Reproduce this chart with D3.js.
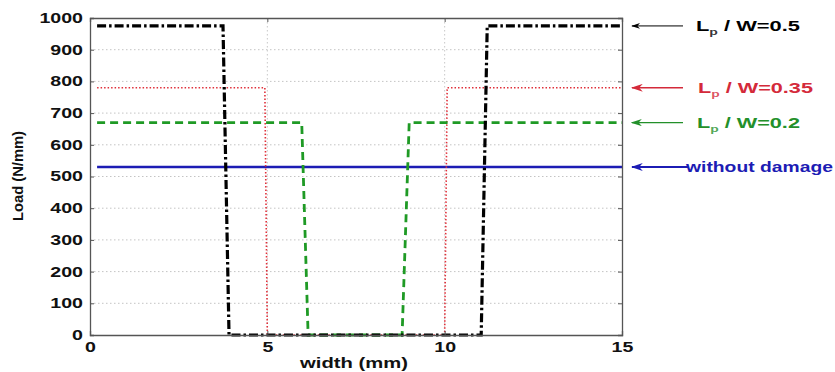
<!DOCTYPE html>
<html>
<head>
<meta charset="utf-8">
<script src="https://cdn.jsdelivr.net/npm/d3@7"></script>
<style>
  html, body { margin: 0; padding: 0; background: #fff; }
  svg { display: block; }
  text { font-family: "Liberation Sans", Arial, sans-serif; font-weight: bold; }
</style>
</head>
<body>
<svg id="chart" width="835" height="372"></svg>
<script>
// Load along the plate width for three damage sizes and the intact plate
const xTicks = [0, 5, 10, 15];
const yTicks = [0, 100, 200, 300, 400, 500, 600, 700, 800, 900, 1000];

const blackX = [0.2, 3.75, 3.92, 11.03, 11.2, 15];
const blackY = [975, 975, 0, 0, 975, 975];
const redX   = [0.2, 4.93, 5.0, 10.0, 10.07, 15];
const redY   = [780, 780, 0, 0, 780, 780];
const greenX = [0.2, 5.97, 6.15, 8.8, 9.0, 15];
const greenY = [670, 670, 0, 0, 670, 670];
const blueX  = [0.2, 15];
const blueY  = [530, 530];

const seriesNames = ["Lp / W=0.5", "Lp / W=0.35", "Lp / W=0.2", "without damage"];

const svg = d3.select("#chart");
const m = { left: 90, right: 622, top: 18, bottom: 335 };
const wide = 1.4; // horizontal stretch of the bold lettering

const x = d3.scaleLinear().domain([0, 15]).range([m.left, m.right]);
const y = d3.scaleLinear().domain([0, 1000]).range([m.bottom, m.top]);

// stretch factor that makes a text node span the given width
function fit(sel, w) {
  const nat = sel.node().getComputedTextLength();
  return w / nat;
}

// grid
const grid = svg.append("g");
grid.selectAll("line.h").data(yTicks.filter(d => d > 0 && d < 1000)).enter().append("line")
  .attr("x1", m.left).attr("x2", m.right)
  .attr("y1", d => y(d)).attr("y2", d => y(d))
  .attr("stroke", "#c4c4c4").attr("stroke-width", 1).attr("stroke-dasharray", "1.5,2.5");
grid.selectAll("line.v").data(xTicks.filter(d => d > 0 && d < 15)).enter().append("line")
  .attr("y1", m.top).attr("y2", m.bottom)
  .attr("x1", d => x(d)).attr("x2", d => x(d))
  .attr("stroke", "#c8c8c8").attr("stroke-width", 1).attr("stroke-dasharray", "1.5,2.5");

// series
const line = d3.line().x(d => x(d[0])).y(d => y(d[1]));
const zip = (a, b) => a.map((v, i) => [v, b[i]]);

const series = [
  { xs: blueX,  ys: blueY,  color: "#1c1cb4", width: 2.6, dash: null },
  { xs: redX,   ys: redY,   color: "#e0303a", width: 1.6, dash: "1.5,2" },
  { xs: greenX, ys: greenY, color: "#1f9a25", width: 2.8, dash: "8,5" },
  { xs: blackX, ys: blackY, color: "#000000", width: 3.2, dash: "9,3,2.5,3" }
];
series.forEach(s => {
  svg.append("path")
    .attr("d", line(zip(s.xs, s.ys)))
    .attr("fill", "none")
    .attr("stroke", s.color)
    .attr("stroke-width", s.width)
    .attr("stroke-dasharray", s.dash)
    .attr("stroke-linejoin", "miter");
});

// axes frame
const axisColor = "#555";
const fmt = d3.format("d");
const gx = svg.append("g").attr("transform", `translate(0,${m.bottom})`)
  .call(d3.axisBottom(x).tickValues(xTicks).tickFormat(fmt).tickSize(-4).tickPadding(7));
const gy = svg.append("g").attr("transform", `translate(${m.left},0)`)
  .call(d3.axisLeft(y).tickValues(yTicks).tickFormat(fmt).tickSize(-4).tickPadding(7));
svg.append("g").attr("transform", `translate(0,${m.top})`)
  .call(d3.axisTop(x).tickValues(xTicks).tickSize(-4).tickFormat(""));
svg.append("g").attr("transform", `translate(${m.right},0)`)
  .call(d3.axisRight(y).tickValues(yTicks).tickSize(-4).tickFormat(""));
svg.selectAll(".domain").attr("stroke", axisColor).attr("stroke-width", 1.3);
svg.selectAll(".tick line").attr("stroke", axisColor);
svg.selectAll(".tick text").attr("font-size", 14).attr("fill", "#111")
  .attr("font-family", "'Liberation Sans', Arial, sans-serif").attr("font-weight", "bold")
  .attr("transform", `scale(${wide},1)`);
gy.selectAll(".tick text").attr("x", -7 / wide);

// axis titles
const xt = svg.append("text").attr("text-anchor", "middle")
  .attr("font-size", 14).attr("fill", "#111").text("width (mm)");
xt.attr("transform", `translate(354,368) scale(${fit(xt, 108)},1)`);

const yt = svg.append("text").attr("text-anchor", "middle")
  .attr("font-size", 13).attr("fill", "#111").text("Load (N/mm)");
yt.attr("transform", `translate(23,176) rotate(-90) scale(${fit(yt, 90)},1.1)`);

// annotations: arrow pointing at each curve's plateau, then its label
const defs = svg.append("defs");
const notes = [
  { val: blackY[0], color: "#000000", label: seriesNames[0], x1: 683, tx: 696, w: 104, sw: 1,   head: 9 },
  { val: redY[0],   color: "#d42a3a", label: seriesNames[1], x1: 683, tx: 698, w: 115, sw: 1.6, head: 12 },
  { val: greenY[0], color: "#23902a", label: seriesNames[2], x1: 683, tx: 697, w: 103, sw: 1.4, head: 11 },
  { val: blueY[0],  color: "#1c1cb4", label: seriesNames[3], x1: 688, tx: 686, w: 147, sw: 2,   head: 12 }
];
notes.forEach((n, i) => {
  defs.append("marker").attr("id", "arr" + i)
    .attr("viewBox", "0 0 10 10").attr("refX", 1).attr("refY", 5)
    .attr("markerWidth", n.head).attr("markerHeight", n.head * 0.65).attr("markerUnits", "userSpaceOnUse")
    .attr("orient", "auto")
    .attr("preserveAspectRatio", "none")
    .append("path").attr("d", "M0,5 L10,0 L7,5 L10,10 Z").attr("fill", n.color);
  const yy = y(n.val);
  svg.append("line").attr("x1", 632).attr("x2", n.x1).attr("y1", yy).attr("y2", yy)
    .attr("stroke", n.color).attr("stroke-width", n.sw)
    .attr("marker-start", `url(#arr${i})`);
  const t = svg.append("text").attr("font-size", 14).attr("fill", n.color);
  if (n.label.startsWith("Lp")) {
    t.append("tspan").text("L");
    t.append("tspan").attr("font-size", 9).attr("dy", 4).attr("fill-opacity", 0.8).text("p");
    t.append("tspan").attr("dy", -4).text(n.label.slice(2));
  } else {
    t.text(n.label);
  }
  t.attr("transform", `translate(${n.tx},${yy + 5}) scale(${fit(t, n.w)},1)`);
});
</script>
</body>
</html>
